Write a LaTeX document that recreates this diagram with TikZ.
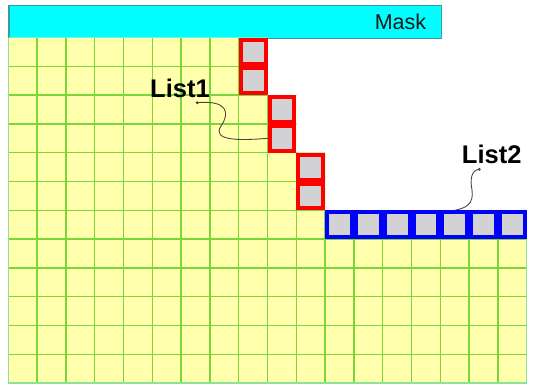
\documentclass[tikz,border=0pt]{standalone}
\usepackage{fontspec}
\setmainfont{Liberation Sans}
\begin{document}
\begin{tikzpicture}[x=1bp,y=-1bp]
\definecolor{cellyellow}{RGB}{255,255,172}
\definecolor{gridgreen}{RGB}{120,215,60}
\definecolor{edgegreen}{RGB}{140,226,150}
\definecolor{maskcyan}{RGB}{0,255,255}
\definecolor{maskedge}{RGB}{48,160,160}
\definecolor{cellgray}{RGB}{210,210,212}
\definecolor{leadgray}{RGB}{78,70,62}
\tikzset{
  listcell/.style={draw=#1, fill=cellgray, line width=4bp,
    minimum size=24.8bp, inner sep=0pt},
  gridline/.style={draw=gridgreen, line width=1.5bp},
  listlabel/.style={font=\bfseries\fontsize{25.5bp}{30bp}\selectfont, inner sep=0pt},
  leader/.style={draw=leadgray, line width=0.9bp},
  leaddot/.style={circle, fill=leadgray, inner sep=0pt, minimum size=3.2bp},
}
\useasboundingbox (0,0) rectangle (551,385);

% mask bar across the top
\node[draw=maskedge, fill=maskcyan, line width=1.2bp, minimum width=432.7bp,
      minimum height=32.5bp, inner sep=0pt, anchor=north west] (mask) at (8.3,5) {};
\node[font=\fontsize{21.5bp}{26bp}\selectfont, inner sep=0pt, text=black!90] (masktext) at (400.5,21.7) {Mask};

% cell grid: 18 x 12 cells, staircase boundary
\begin{scope}[shift={(8.3,37.5)}, x=28.8bp, y=-28.8bp]
  \fill[cellyellow] (0,0) -- (9,0) -- (9,2) -- (10,2) -- (10,4) -- (11,4) -- (11,6)
        -- (18,6) -- (18,12) -- (0,12) -- cycle;
  \begin{scope}
    \clip (0,0) -- (9,0) -- (9,2) -- (10,2) -- (10,4) -- (11,4) -- (11,6)
        -- (18,6) -- (18,12) -- (0,12) -- cycle;
    \foreach \i in {1,...,17} \draw[gridline] (\i,0) -- (\i,12);
    \foreach \j in {1,...,11} \draw[gridline] (0,\j) -- (18,\j);
  \end{scope}
  \draw[edgegreen, line width=1.5bp] (0,0) -- (0,12) -- (18,12) -- (18,6);

  % first list: staircase cells
  \node[listcell=red] (r1) at (8.5,0.5) {};
  \node[listcell=red] (r2) at (8.5,1.5) {};
  \node[listcell=red] (r3) at (9.5,2.5) {};
  \node[listcell=red] (r4) at (9.5,3.5) {};
  \node[listcell=red] (r5) at (10.5,4.5) {};
  \node[listcell=red] (r6) at (10.5,5.5) {};

  % second list: horizontal run
  \foreach \k/\c in {1/11,2/12,3/13,4/14,5/15,6/16,7/17}
    \node[listcell=blue] (b\k) at (\c+0.5,6.5) {};
\end{scope}

% labels with leaders
\node[listlabel] (l1) at (180,88.5) {List1};
\node[leaddot] (d1) at (197.3,102.7) {};
\draw[leader] (d1.center) .. controls (228,100) and (230,113) .. (221,126)
      .. controls (212,140) and (236,141) .. (r4.west);

\node[listlabel] (l2) at (491.7,154.2) {List2};
\node[leaddot] (d2) at (479.3,169.3) {};
\draw[leader] (d2.center) .. controls (471,170) and (470,180) .. (472,190)
      .. controls (474,204) and (466,208) .. (b5.north);
\end{tikzpicture}
\end{document}
